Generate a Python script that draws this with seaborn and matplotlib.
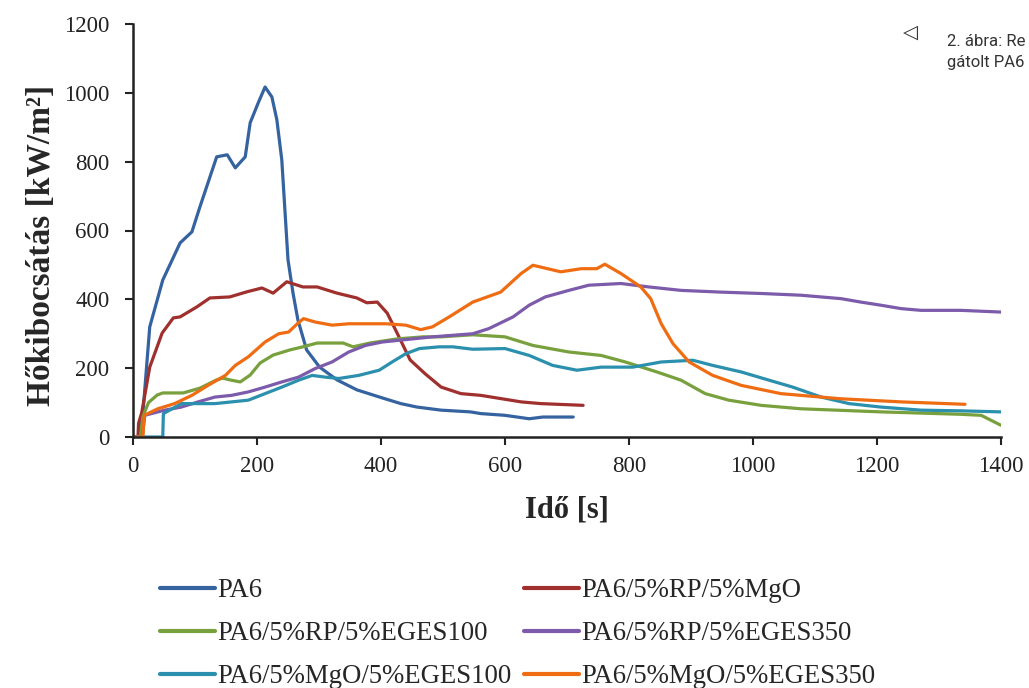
import matplotlib
matplotlib.use("Agg")
import matplotlib.pyplot as plt
import seaborn as sns
import pandas as pd

labels = ["PA6", "PA6/5%RP/5%MgO", "PA6/5%RP/5%EGES100",
          "PA6/5%RP/5%EGES350", "PA6/5%MgO/5%EGES100", "PA6/5%MgO/5%EGES350"]
colors = ["#3563a0", "#a0302e", "#78a03c", "#7c5bab", "#2b8fae", "#ef6c12"]

pa6_t = [0, 10, 16, 27, 48, 76, 95, 108, 135, 152, 165, 181, 189, 202, 213, 224, 232, 240, 245,
         250, 258, 266, 280, 301, 329, 361, 403, 432, 458, 497, 544, 561, 600, 639, 661, 710]
pa6_v = [0, 0, 70, 320, 456, 564, 596, 669, 814, 820, 782, 814, 913, 971, 1017, 988, 922, 805, 660,
         515, 419, 340, 253, 203, 166, 137, 113, 97, 87, 78, 73, 68, 63, 53, 58, 58]

rp_mgo_t = [0, 8, 9, 14, 27, 47, 65, 76, 103, 124, 156, 184, 208, 226, 248, 274, 297, 329, 361,
            377, 394, 410, 426, 447, 471, 497, 529, 561, 626, 658, 726]
rp_mgo_v = [0, 0, 40, 70, 203, 302, 346, 349, 378, 404, 407, 422, 433, 418, 451, 436, 436, 418, 404,
            390, 392, 360, 302, 224, 184, 145, 126, 121, 102, 97, 92]

rp_e100_t = [0, 12, 16, 25, 39, 48, 81, 108, 135, 145, 156, 173, 189, 205, 226, 253, 274, 297, 318,
             339, 355, 382, 426, 468, 497, 548, 600, 645, 703, 755, 794, 845, 884, 923, 961, 1013,
             1077, 1206, 1335, 1368, 1400]
rp_e100_v = [0, 0, 60, 100, 122, 128, 128, 142, 166, 171, 166, 160, 180, 215, 238, 253, 262, 273, 273,
             273, 262, 273, 285, 291, 291, 297, 291, 266, 247, 237, 218, 189, 165, 126, 107, 92,
             82, 73, 66, 63, 34]

rp_e350_t = [0, 15, 19, 51, 78, 105, 132, 159, 186, 213, 240, 267, 294, 321, 348, 375, 402, 429, 483,
             548, 574, 613, 639, 665, 703, 735, 787, 832, 884, 948, 1013, 1077, 1142, 1174, 1206,
             1239, 1271, 1335, 1400]
rp_e350_v = [0, 0, 63, 78, 87, 102, 116, 121, 131, 145, 160, 174, 199, 218, 247, 266, 276, 281, 291,
             300, 315, 349, 383, 407, 426, 441, 446, 436, 426, 421, 417, 412, 402, 392, 383,
             373, 368, 368, 363]

mgo_e100_t = [0, 48, 49, 78, 105, 132, 159, 186, 213, 240, 267, 289, 310, 332, 364, 397, 418, 440,
              462, 494, 516, 548, 600, 639, 677, 716, 755, 806, 852, 903, 935, 981, 1026, 1064, 1110,
              1155, 1206, 1271, 1335, 1400]
mgo_e100_v = [0, 0, 68, 97, 97, 97, 102, 107, 126, 145, 165, 179, 174, 170, 179, 194, 218, 242,
              257, 262, 262, 255, 257, 237, 208, 194, 203, 203, 218, 223, 208, 189, 165, 145, 116,
              97, 87, 78, 76, 73]

mgo_e350_t = [0, 16, 18, 40, 67, 95, 121, 149, 165, 186, 213, 235, 251, 265, 275, 294, 321, 348, 375,
              408, 440, 464, 483, 510, 548, 593, 626, 645, 690, 723, 748, 761, 787, 819, 835, 852,
              871, 897, 935, 981, 1045, 1142, 1239, 1342]
mgo_e350_v = [0, 0, 63, 82, 97, 121, 150, 179, 208, 233, 276, 300, 305, 329, 344, 334, 325, 329, 329,
              329, 325, 312, 320, 349, 392, 421, 475, 499, 480, 489, 489, 502, 475, 436, 402, 329,
              271, 218, 179, 150, 126, 111, 102, 95]

x_ticks = [0, 200, 400, 600, 800, 1000, 1200, 1400]
y_ticks = [0, 200, 400, 600, 800, 1000, 1200]

series = [(pa6_t, pa6_v), (rp_mgo_t, rp_mgo_v), (rp_e100_t, rp_e100_v),
          (rp_e350_t, rp_e350_v), (mgo_e100_t, mgo_e100_v), (mgo_e350_t, mgo_e350_v)]
frames = []
for lab, (t, v) in zip(labels, series):
    frames.append(pd.DataFrame({"t": t, "v": v, "minta": lab}))
df = pd.concat(frames, ignore_index=True)

sns.set_style("ticks")
plt.rcParams["font.family"] = ["Liberation Serif", "DejaVu Serif"]

fig = plt.figure(figsize=(10.29, 6.88), dpi=100)
ax = fig.add_axes([133 / 1029, 1 - 437 / 688, (1001 - 133) / 1029, (437 - 24) / 688])

sns.lineplot(data=df, x="t", y="v", hue="minta", hue_order=labels,
             palette=dict(zip(labels, colors)), linewidth=2.3, ax=ax,
             estimator=None, sort=False, legend=False)

ax.set_xlim(0, 1400)
ax.set_ylim(0, 1200)
ax.set_xticks(x_ticks)
ax.set_yticks(y_ticks)
ax.tick_params(axis="both", direction="out", length=6, width=1.5, colors="#222222",
               labelsize=16.5, labelcolor="#222222")
ax.tick_params(axis="x", pad=8)
ax.tick_params(axis="y", pad=11)
for s in ["top", "right"]:
    ax.spines[s].set_visible(False)
for s in ["left", "bottom"]:
    ax.spines[s].set_linewidth(1.8)
    ax.spines[s].set_color("#222222")

ax.set_xlabel("Idő [s]", fontsize=22, fontweight="bold", labelpad=13)
ax.set_ylabel("Hőkibocsátás [kW/m²]", fontsize=24, fontweight="bold")
ax.yaxis.set_label_coords(-0.088, 0.465)

order = [0, 2, 4, 1, 3, 5]
handles = [plt.Line2D([], [], color=colors[i], linewidth=3) for i in order]
fig.legend(handles, [labels[i] for i in order], loc="upper left",
           bbox_to_anchor=(160 / 1029, 1 - 578 / 688),
           ncol=2, frameon=False, fontsize=19.3, handlelength=2.05, handletextpad=0.1,
           columnspacing=0.45, labelspacing=0.68, borderpad=0, borderaxespad=0)

fig.text(903 / 1029, 1 - 32 / 688, "◁", fontsize=14, color="#333333",
         family=["DejaVu Sans"], va="center", ha="left")
fig.text(947 / 1029, 1 - 42 / 688, "2. ábra: Re", fontsize=12, color="#333333",
         family=["Roboto", "DejaVu Sans"], va="center", ha="left")
fig.text(947 / 1029, 1 - 62 / 688, "gátolt PA6", fontsize=12, color="#333333",
         family=["Roboto", "DejaVu Sans"], va="center", ha="left")

fig.savefig("out.png", dpi=100)
